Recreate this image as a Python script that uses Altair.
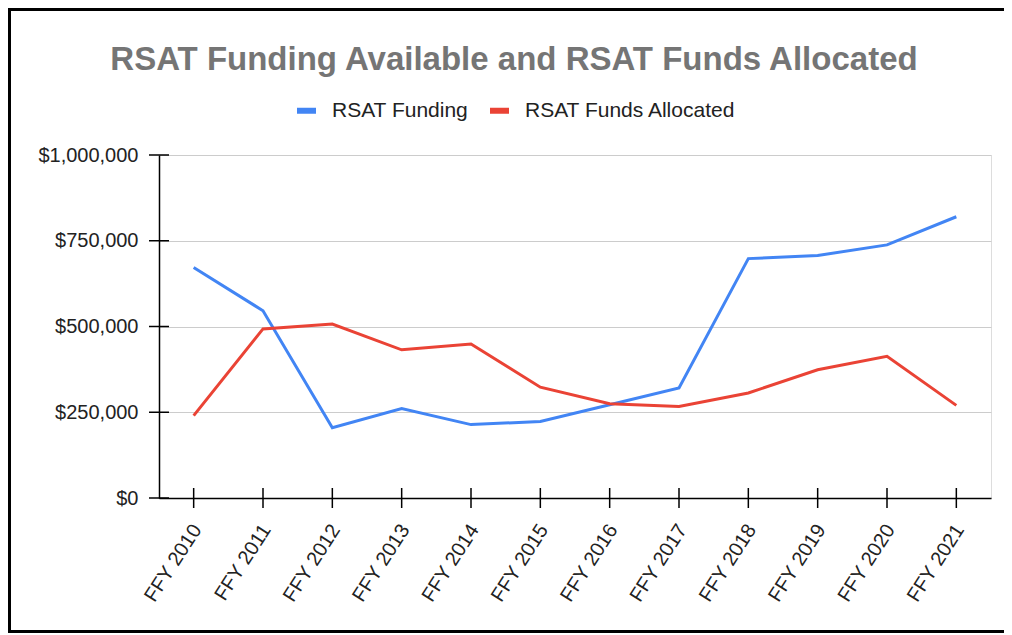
import altair as alt
import pandas as pd

years = ["FFY 2010", "FFY 2011", "FFY 2012", "FFY 2013", "FFY 2014", "FFY 2015",
         "FFY 2016", "FFY 2017", "FFY 2018", "FFY 2019", "FFY 2020", "FFY 2021"]
rsat_funding = [672000, 546000, 205000, 261000, 214000, 223000,
                272000, 321000, 698000, 707000, 738000, 820000]
rsat_allocated = [240000, 493000, 507000, 432000, 449000, 323000,
                  275000, 267000, 306000, 374000, 413000, 270000]
series_names = ["RSAT Funding", "RSAT Funds Allocated"]
series_colors = ["#4285F4", "#EA4335"]
y_ticks = [0, 250000, 500000, 750000, 1000000]

W, H = 832, 343
PAD_L, PAD_T, PAD_R, PAD_B = 151, 147, 13, 135
FONT = "Arial, Liberation Sans, sans-serif"

rows = []
for i, y in enumerate(years):
    rows.append({"Year": y, "Series": series_names[0], "Value": rsat_funding[i], "order": i})
    rows.append({"Year": y, "Series": series_names[1], "Value": rsat_allocated[i], "order": i})
df = pd.DataFrame(rows)

x_enc = alt.X("Year:N", sort=years,
              scale=alt.Scale(type="point", padding=0.5),
              axis=alt.Axis(title=None, labelAngle=-57, labelAlign="right", labelBaseline="middle",
                            labelPadding=28, labelOffset=3, ticks=False, tickSize=0, grid=False,
                            domainColor="#000000", domainWidth=1.5,
                            labelFontSize=20, labelColor="#222222", labelFont=FONT))
y_enc = alt.Y("Value:Q", scale=alt.Scale(domain=[0, 1000000], nice=False),
              axis=alt.Axis(title=None, values=y_ticks, format="$,.0f", ticks=False, tickSize=0,
                            labelPadding=21, domainColor="#000000", domainWidth=1.5,
                            gridColor="#cccccc", gridWidth=1,
                            labelFontSize=20, labelColor="#222222", labelFont=FONT))

lines = alt.Chart(df).mark_line(strokeWidth=3).encode(
    x=x_enc, y=y_enc,
    color=alt.Color("Series:N", sort=series_names,
                    scale=alt.Scale(domain=series_names, range=series_colors),
                    legend=alt.Legend(title=None, orient="none", direction="horizontal",
                                      legendX=135, legendY=-57, padding=0,
                                      symbolType="stroke", symbolStrokeWidth=6, symbolSize=361,
                                      labelFontSize=21, labelColor="#222222", labelFont=FONT,
                                      labelLimit=400, labelOffset=13, columnPadding=9)),
    order="order:Q",
)

xt = pd.DataFrame({"Year": years})
x_ticks = alt.Chart(xt).mark_rule(color="#000000", strokeWidth=1.5).encode(
    x=alt.X("Year:N", sort=years, scale=alt.Scale(type="point", padding=0.5)),
    y=alt.value(H - 10), y2=alt.value(H + 10))

yt = pd.DataFrame({"Value": y_ticks})
y_tick_rules = alt.Chart(yt).mark_rule(color="#000000", strokeWidth=1.5).encode(
    y=alt.Y("Value:Q", scale=alt.Scale(domain=[0, 1000000], nice=False)),
    x=alt.value(-10), x2=alt.value(10))

# decorative frame around the whole chart (left, top, bottom edges)
one = pd.DataFrame({"a": [0]})
frame_bottom_y = H + PAD_B - 1.5
border_left = alt.Chart(one).mark_rule(color="#000000", strokeWidth=3).encode(
    x=alt.value(-PAD_L + 1.5), y=alt.value(-PAD_T), y2=alt.value(H + PAD_B))
border_top = alt.Chart(one).mark_rule(color="#000000", strokeWidth=3).encode(
    x=alt.value(-PAD_L), x2=alt.value(W + PAD_R), y=alt.value(-PAD_T + 1.5))
border_bottom = alt.Chart(one).mark_rule(color="#000000", strokeWidth=3).encode(
    x=alt.value(-PAD_L), x2=alt.value(W + PAD_R), y=alt.value(frame_bottom_y))

chart = alt.layer(lines, x_ticks, y_tick_rules, border_left, border_top, border_bottom).properties(
    width=W, height=H,
    title=alt.TitleParams("RSAT Funding Available and RSAT Funds Allocated",
                          fontSize=33, fontWeight="bold", color="#757575", font=FONT,
                          anchor="middle", frame="group", dx=-61, offset=-70),
    autosize=alt.AutoSizeParams(type="none"),
    padding={"left": PAD_L, "top": PAD_T, "right": PAD_R, "bottom": PAD_B},
).configure_view(stroke=None).configure(background="#ffffff")

chart.save("out.html", embed_options={"renderer": "svg", "actions": False})
